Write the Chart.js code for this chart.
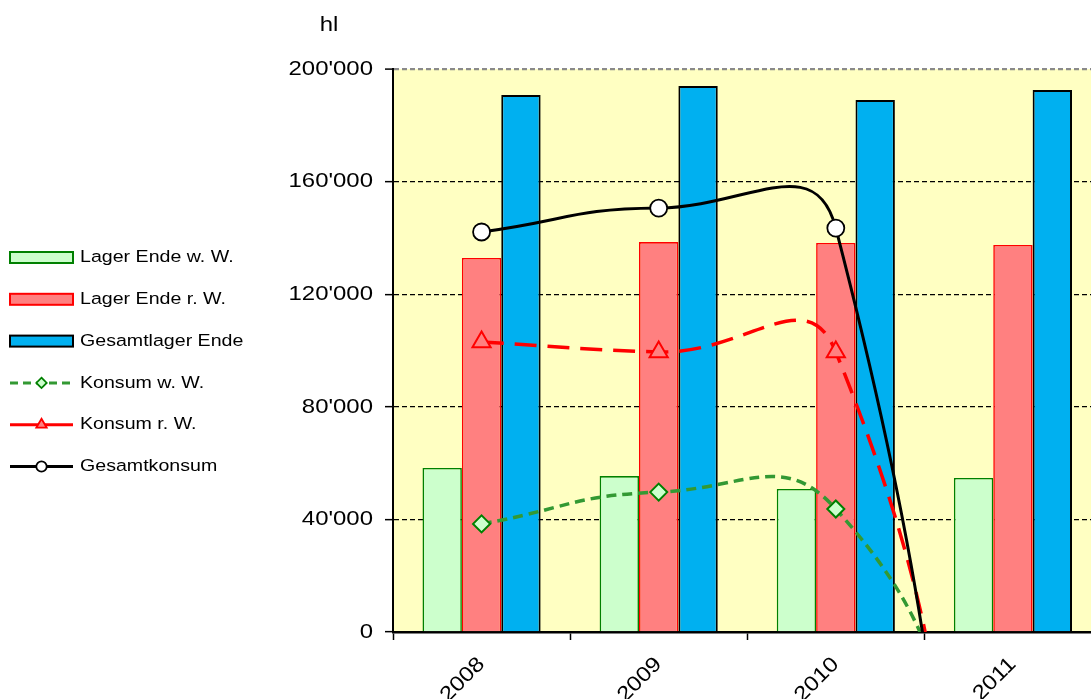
<!DOCTYPE html>
<html>
<head>
<meta charset="utf-8">
<script src="https://cdn.jsdelivr.net/npm/chart.js@4.4.1/dist/chart.umd.min.js"></script>
<style>
html,body{margin:0;padding:0;background:#fff;overflow:hidden;width:1091px;height:699px}
#c{position:absolute;left:0;top:0}
</style>
</head>
<body>
<canvas id="c" width="1114" height="699"></canvas>
<script>
// ---- data ----
const categories = ['2008', '2009', '2010', '2011'];
const lagerWW = [58300, 55400, 50800, 54700];
const lagerRW = [132900, 138500, 138200, 137500];
const gesamtLager = [190800, 194000, 189000, 192500];
// 2011 consumption values fall below the axis (clipped in the picture) – estimated
const konsumWW = [38400, 49700, 43700, -90000];
const konsumRW = [103000, 99500, 99500, -212000];
const gesamtKonsum = [142100, 150600, 143500, -335000];
const yTickValues = [0, 40000, 80000, 120000, 160000, 200000];
const yTickLabels = ["0", "40'000", "80'000", "120'000", "160'000", "200'000"];
const seriesNames = ['Lager Ende w. W.', 'Lager Ende r. W.', 'Gesamtlager Ende', 'Konsum w. W.', 'Konsum r. W.', 'Gesamtkonsum'];
const unitLabel = 'hl';

// ---- styling ----
const FONT = "'Liberation Sans', Arial, sans-serif";
const TEXT_SX = 1.14;
const canvas = document.getElementById('c');
const c2d = canvas.getContext('2d');
const origFillText = c2d.fillText;
c2d.fillText = function (t, x, y) {
  this.save();
  this.translate(x, y);
  this.scale(TEXT_SX, 1);
  origFillText.call(this, t, 0, 0);
  this.restore();
};

const legendLook = [
  {kind: 'bar'}, {kind: 'bar'}, {kind: 'bar'},
  {kind: 'line', dash: [8, 5]}, {kind: 'line', dash: []}, {kind: 'line', dash: []}
];

const bgPlugin = {
  id: 'plotBg',
  beforeDraw(chart) {
    const {ctx, chartArea: a} = chart;
    ctx.save();
    ctx.fillStyle = '#FFFFC2';
    ctx.fillRect(a.left, a.top, a.right - a.left, a.bottom - a.top);
    ctx.restore();
  }
};

function marker(ctx, style, x, y, r) {
  ctx.beginPath();
  if (style === 'circle') {
    ctx.arc(x, y, r, 0, Math.PI * 2);
  } else if (style === 'rectRot') {
    ctx.moveTo(x, y - r); ctx.lineTo(x + r, y); ctx.lineTo(x, y + r); ctx.lineTo(x - r, y);
  } else if (style === 'triangle') {
    ctx.moveTo(x, y - r);
    ctx.lineTo(x + r * 0.866, y + r * 0.5);
    ctx.lineTo(x - r * 0.866, y + r * 0.5);
  }
  ctx.closePath();
  ctx.fill();
  ctx.stroke();
}

const sideLegend = {
  id: 'sideLegend',
  afterDraw(chart) {
    const ctx = chart.ctx;
    const a = chart.chartArea;
    const ds = chart.data.datasets;
    const x0 = 10, w = 63, tx = 80, y0 = 257.5, dy = 41.8;
    ctx.save();
    ctx.font = '17.2px ' + FONT;
    ctx.textBaseline = 'middle';
    ctx.textAlign = 'left';
    ds.forEach((d, i) => {
      const y = y0 + i * dy;
      const look = legendLook[i];
      if (look.kind === 'bar') {
        ctx.fillStyle = d.backgroundColor;
        ctx.strokeStyle = d.borderColor;
        ctx.lineWidth = 2;
        ctx.fillRect(x0, y - 5.5, w, 11);
        ctx.strokeRect(x0, y - 5.5, w, 11);
      } else {
        ctx.strokeStyle = d.borderColor;
        ctx.lineWidth = 3;
        ctx.setLineDash(look.dash);
        ctx.beginPath(); ctx.moveTo(x0, y); ctx.lineTo(x0 + w, y); ctx.stroke();
        ctx.setLineDash([]);
        ctx.fillStyle = d.pointBackgroundColor;
        ctx.strokeStyle = d.pointBorderColor;
        ctx.lineWidth = 1.8;
        marker(ctx, d.pointStyle, x0 + w / 2, y, d.pointStyle === 'triangle' ? 6 : 5.2);
      }
      ctx.fillStyle = '#000';
      ctx.fillText(d.label, tx, y);
    });
    // unit label
    ctx.font = '21px ' + FONT;
    ctx.textAlign = 'center';
    ctx.fillText(unitLabel, a.left - 64, a.top - 44);
    ctx.restore();
  }
};

new Chart(c2d, {
  type: 'bar',
  data: {
    labels: categories,
    datasets: [
      {label: seriesNames[0], data: lagerWW, backgroundColor: '#CCFFCC', borderColor: '#008000', borderWidth: 1.6, order: 3,
       categoryPercentage: 0.667, barPercentage: 1.0},
      {label: seriesNames[1], data: lagerRW, backgroundColor: '#FF8080', borderColor: '#FF0000', borderWidth: 1.6, order: 3,
       categoryPercentage: 0.667, barPercentage: 1.0},
      {label: seriesNames[2], data: gesamtLager, backgroundColor: '#00B0F0', borderColor: '#000000', borderWidth: 2, order: 3,
       categoryPercentage: 0.667, barPercentage: 1.0},
      {type: 'line', label: seriesNames[3], data: konsumWW, borderColor: '#339933', borderWidth: 3.5, borderDash: [10, 6],
       tension: 0.5, pointStyle: 'rectRot', pointRadius: 8.5, pointBackgroundColor: '#CCFFCC', pointBorderColor: '#008000',
       pointBorderWidth: 2, order: 2},
      {type: 'line', label: seriesNames[4], data: konsumRW, borderColor: '#FF0000', borderWidth: 3.5, borderDash: [22, 11],
       tension: 0.5, pointStyle: 'triangle', pointRadius: 10.5, pointBackgroundColor: '#FF8080', pointBorderColor: '#FF0000',
       pointBorderWidth: 2, order: 1},
      {type: 'line', label: seriesNames[5], data: gesamtKonsum, borderColor: '#000000', borderWidth: 3,
       tension: 0.5, pointStyle: 'circle', pointRadius: 8.5, pointBackgroundColor: '#FFFFFF', pointBorderColor: '#000000',
       pointBorderWidth: 1.8, order: 0}
    ]
  },
  options: {
    responsive: false,
    animation: false,
    devicePixelRatio: 1,
    events: [],
    layout: {padding: {top: 69, left: 0, right: 9, bottom: 0}},
    elements: {line: {capBezierPoints: false}},
    plugins: {legend: {display: false}, tooltip: {enabled: false}, title: {display: false}},
    scales: {
      x: {
        offset: true,
        grid: {display: true, offset: true, drawOnChartArea: false, drawTicks: true, tickLength: 8, tickColor: '#000', tickWidth: 1.5},
        border: {display: true, color: '#000', width: 2.5},
        ticks: {minRotation: 45, maxRotation: 45, autoSkip: false, color: '#000', font: {family: FONT, size: 21}, padding: 12},
        afterFit(s) { s.height = 67; }
      },
      y: {
        min: 0, max: 200000,
        ticks: {
          stepSize: 40000, color: '#000', font: {family: FONT, size: 21}, padding: 12,
          callback: (v) => { const i = yTickValues.indexOf(v); return i >= 0 ? yTickLabels[i] : ''; }
        },
        grid: {
          color: (ctx) => {
            const v = ctx.tick ? ctx.tick.value : null;
            if (v === 200000) return '#8a8a8a';
            if (v === 0) return 'rgba(0,0,0,0)';
            return '#000';
          },
          lineWidth: (ctx) => (ctx.tick && ctx.tick.value === 200000 ? 2.2 : 1.3),
          drawTicks: true, tickLength: 8, tickColor: '#000', tickWidth: 1.5
        },
        border: {display: true, color: '#000', width: 2, dash: [5, 3]},
        afterFit(s) { s.width = 393; }
      }
    }
  },
  plugins: [bgPlugin, sideLegend]
});
</script>
</body>
</html>
